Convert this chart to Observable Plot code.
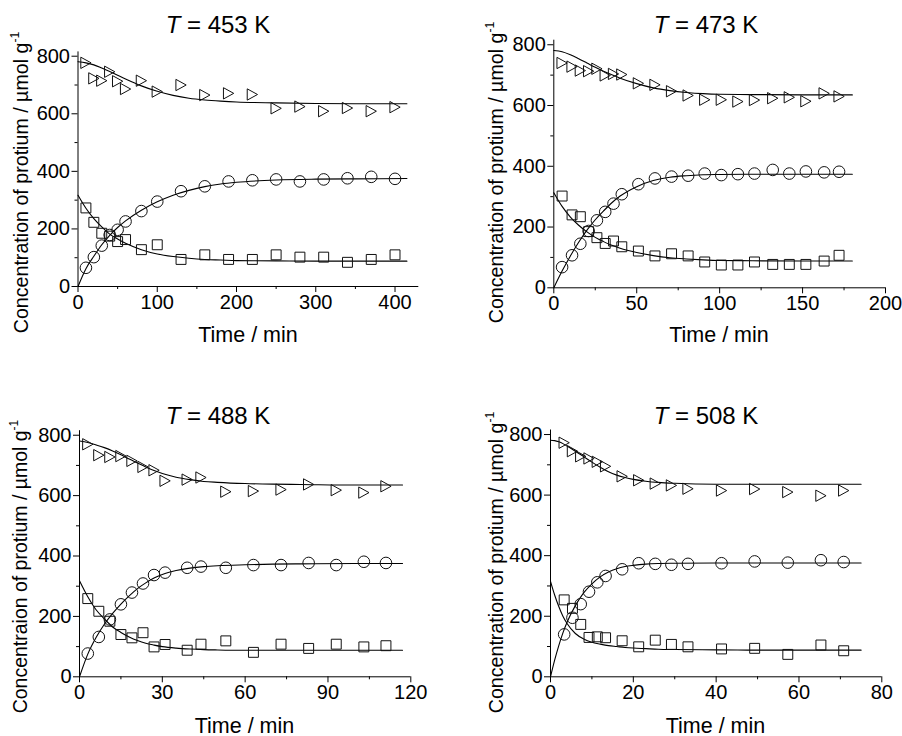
<!DOCTYPE html>
<html>
<head>
<meta charset="utf-8">
<script src="https://cdn.jsdelivr.net/npm/d3@7"></script>
<script src="https://cdn.jsdelivr.net/npm/@observablehq/plot@0.6"></script>
<style>
  body { margin: 0; background: #fff; }
  #root { position: relative; width: 902px; height: 736px; overflow: hidden;
          font-family: "Liberation Sans", Arial, sans-serif; color: #000; background: #fff; }
  .panel { position: absolute; }
  .title { position: absolute; width: 300px; text-align: center; font-size: 24px; line-height: 24px; white-space: nowrap; }
  .xlab { position: absolute; width: 240px; text-align: center; font-size: 21.5px; line-height: 22px; white-space: nowrap; }
  .ylab { position: absolute; font-size: 21px; line-height: 22px; white-space: nowrap; transform-origin: 50% 50%; }
  .ylab sup { font-size: 13px; vertical-align: 0; position: relative; top: -9px; }
</style>
</head>
<body>
<div id="root"></div>
<script>
// ---------- shared axis ticks ----------
const yTicksMajor = [0, 200, 400, 600, 800];
const yTicksMinor = [100, 300, 500, 700];

// ---------- T = 453 K ----------
const time453 = [10, 20, 30, 40, 50, 60, 80, 100, 130, 160, 190, 220, 250, 280, 310, 340, 370, 400];
const tri453  = [777, 723, 715, 746, 713, 686, 715, 677, 700, 665, 671, 667, 619, 625, 609, 620, 609, 623];
const circ453 = [65, 102, 142, 179, 197, 226, 262, 295, 331, 348, 365, 369, 372, 365, 372, 376, 381, 374];
const sq453   = [273, 223, 185, 175, 156, 163, 128, 145, 94, 110, 94, 94, 110, 102, 102, 84, 94, 110];
const fitTime453 = [0, 10, 20, 30, 40, 50, 60, 80, 100, 120, 140, 160, 180, 200, 250, 300, 350, 415];
const fitTri453  = [781, 777, 770, 759, 747, 734, 721, 697, 678, 664, 654, 648, 644, 641, 638, 636, 635, 635];
const fitCirc453 = [0, 62, 105, 145, 178, 205, 228, 265, 294, 317, 334, 347, 356, 362, 370, 373, 374, 375];
const fitSq453   = [317, 272, 236, 207, 182, 165, 150, 128, 113, 104, 98, 94, 92, 90, 89, 88, 88, 88];
const xTicks453 = [0, 100, 200, 300, 400];
const xMinor453 = [50, 150, 250, 350];

// ---------- T = 473 K ----------
const time473 = [5, 11, 16, 21, 26, 31, 36, 41, 51, 61, 71, 81, 91, 101, 111, 121, 132, 142, 152, 163, 172];
const tri473  = [740, 728, 715, 713, 721, 699, 704, 702, 673, 668, 647, 633, 619, 619, 613, 618, 624, 627, 614, 640, 630];
const circ473 = [68, 107, 145, 187, 222, 250, 277, 308, 341, 360, 366, 369, 376, 371, 374, 376, 388, 376, 383, 380, 382];
const sq473   = [302, 240, 234, 185, 165, 146, 154, 135, 121, 105, 112, 105, 85, 75, 75, 85, 77, 77, 77, 88, 107];
const fitTime473 = [0, 5, 10, 15, 20, 25, 30, 35, 40, 50, 60, 70, 80, 90, 100, 120, 150, 180];
const fitTri473  = [781, 777, 767, 754, 740, 726, 713, 701, 690, 672, 658, 649, 643, 639, 637, 636, 635, 635];
const fitCirc473 = [0, 55, 105, 150, 190, 224, 253, 280, 302, 333, 353, 364, 369, 372, 373, 374, 374, 374];
const fitSq473   = [313, 268, 233, 206, 184, 166, 152, 140, 130, 116, 106, 99, 95, 92, 90, 89, 88, 88];
const xTicks473 = [0, 50, 100, 150, 200];
const xMinor473 = [25, 75, 125, 175];

// ---------- T = 488 K ----------
const time488 = [3, 7, 11, 15, 19, 23, 27, 31, 39, 44, 53, 63, 73, 83, 93, 103, 111];
const tri488  = [770, 734, 728, 731, 715, 695, 684, 649, 653, 660, 613, 615, 620, 637, 618, 610, 631];
const circ488 = [77, 132, 190, 240, 279, 309, 337, 345, 361, 365, 361, 370, 370, 377, 370, 381, 377];
const sq488   = [259, 217, 184, 140, 129, 146, 99, 107, 88, 108, 119, 81, 108, 94, 108, 99, 103];
const fitTime488 = [0, 3, 6, 9, 12, 15, 18, 21, 24, 27, 30, 35, 40, 45, 50, 60, 70, 80, 100, 117];
const fitTri488  = [781, 776, 768, 759, 748, 735, 721, 708, 695, 683, 673, 661, 653, 647, 644, 640, 638, 637, 635, 635];
const fitCirc488 = [0, 75, 130, 174, 210, 241, 268, 292, 311, 327, 339, 352, 360, 365, 368, 371, 373, 374, 375, 375];
const fitSq488   = [318, 265, 222, 192, 165, 147, 132, 120, 111, 105, 100, 95, 92, 90, 89, 88, 88, 88, 88, 88];
const xTicks488 = [0, 30, 60, 90, 120];
const xMinor488 = [15, 45, 75, 105];

// ---------- T = 508 K ----------
const time508 = [3.3, 5.3, 7.3, 9.3, 11.3, 13.3, 17.3, 21.3, 25.3, 29.2, 33.2, 41.3, 49.3, 57.3, 65.3, 70.8];
const tri508  = [773, 745, 728, 721, 710, 695, 662, 649, 638, 632, 621, 615, 620, 610, 598, 615];
const circ508 = [140, 195, 240, 281, 312, 333, 355, 375, 373, 370, 373, 375, 381, 377, 385, 379];
const sq508   = [254, 226, 173, 130, 132, 129, 119, 99, 121, 107, 99, 92, 94, 74, 105, 86];
const fitTime508 = [0, 1, 2, 3, 4, 6, 8, 10, 12, 14, 16, 18, 20, 23, 26, 30, 40, 50, 75];
const fitTri508  = [781, 780, 776, 770, 762, 745, 727, 709, 692, 677, 666, 658, 652, 646, 642, 639, 636, 636, 636];
const fitCirc508 = [0, 55, 103, 145, 180, 235, 277, 307, 330, 346, 357, 364, 368, 372, 374, 375, 376, 376, 376];
const fitSq508   = [315, 270, 232, 200, 176, 143, 125, 114, 108, 103, 100, 97, 95, 93, 91, 90, 89, 88, 88];
const xTicks508 = [0, 20, 40, 60, 80];
const xMinor508 = [10, 30, 50, 70];

const titles = ["453", "473", "488", "508"];
const yLabels = ["Concentration of protium / \u00b5mol g", "Concentration of protium / \u00b5mol g",
                 "Concentraion of protium / \u00b5mol g", "Concentration of protium / \u00b5mol g"];
const xLabel = "Time / min";

// ---------- layout (pixel geometry, kept separate from the data) ----------
const layout = [
  {left: 0,   top: 0,   w: 451, h: 368, mt: 51.4, mb: 82,   ml: 77.5,  mr: 32.7, xMax: 430,
   titleX: 218, titleBase: 33,  xlabX: 248, xlabBase: 342.5, ylabX: 21.5, ylabY: 182},
  {left: 451, top: 0,   w: 451, h: 368, mt: 39.7, mb: 80.7, ml: 102.3, mr: 17,   xMax: 200,
   titleX: 706, titleBase: 33,  xlabX: 719, xlabBase: 342.5, ylabX: 496.5, ylabY: 172.5},
  {left: 0,   top: 368, w: 451, h: 368, mt: 62.2, mb: 59.7, ml: 79,    mr: 40.7, xMax: 120,
   titleX: 218, titleBase: 424, xlabX: 244.5, xlabBase: 733, ylabX: 21.5, ylabY: 566},
  {left: 451, top: 368, w: 451, h: 368, mt: 61.5, mb: 59.7, ml: 99,    mr: 20.7, xMax: 80,
   titleX: 706, titleBase: 424, xlabX: 715.5, xlabBase: 733, ylabX: 496.5, ylabY: 562}
];

const series = [
  {time: time453, tri: tri453, circ: circ453, sq: sq453, fitTime: fitTime453, fitTri: fitTri453, fitCirc: fitCirc453, fitSq: fitSq453, xTicks: xTicks453, xMinor: xMinor453},
  {time: time473, tri: tri473, circ: circ473, sq: sq473, fitTime: fitTime473, fitTri: fitTri473, fitCirc: fitCirc473, fitSq: fitSq473, xTicks: xTicks473, xMinor: xMinor473},
  {time: time488, tri: tri488, circ: circ488, sq: sq488, fitTime: fitTime488, fitTri: fitTri488, fitCirc: fitCirc488, fitSq: fitSq488, xTicks: xTicks488, xMinor: xMinor488},
  {time: time508, tri: tri508, circ: circ508, sq: sq508, fitTime: fitTime508, fitTri: fitTri508, fitCirc: fitCirc508, fitSq: fitSq508, xTicks: xTicks508, xMinor: xMinor508}
];

// right-pointing open triangle symbol
const triangleRight = {
  draw(ctx, size) {
    const s = Math.sqrt(size);
    const w = s * 1.0, h = s * 1.1;
    ctx.moveTo(w / 2, 0);
    ctx.lineTo(-w / 2, -h / 2);
    ctx.lineTo(-w / 2, h / 2);
    ctx.closePath();
  }
};

const zip = (t, v) => t.map((d, i) => ({t: d, v: v[i]}));

const root = document.getElementById("root");

layout.forEach((L, i) => {
  const S = series[i];
  const ink = "#111";
  const chart = Plot.plot({
    width: L.w, height: L.h,
    marginTop: L.mt, marginBottom: L.mb, marginLeft: L.ml, marginRight: L.mr,
    x: {domain: [0, L.xMax]},
    y: {domain: [0, 815]},
    style: {fontFamily: "'Liberation Sans', Arial, sans-serif", fontSize: "20px", background: "transparent", color: "#000", overflow: "visible"},
    marks: [
      Plot.axisX({ticks: S.xTicks, tickSize: 6, tickPadding: 2, fontSize: 20, label: null, tickFormat: d => String(d)}),
      Plot.axisX({ticks: S.xMinor, tickSize: 3, fill: "none", label: null}),
      Plot.axisY({ticks: yTicksMajor, tickSize: 6, tickPadding: 2, fontSize: 20, label: null, tickFormat: d => String(d)}),
      Plot.axisY({ticks: yTicksMinor, tickSize: 3, fill: "none", label: null}),
      Plot.ruleY([0], {stroke: "#000", strokeWidth: 1}),
      Plot.ruleX([0], {stroke: "#000", strokeWidth: 1}),
      Plot.line(zip(S.fitTime, S.fitTri),  {x: "t", y: "v", curve: "monotone-x", stroke: "#000", strokeWidth: 1.1}),
      Plot.line(zip(S.fitTime, S.fitCirc), {x: "t", y: "v", curve: "monotone-x", stroke: "#000", strokeWidth: 1.1}),
      Plot.line(zip(S.fitTime, S.fitSq),   {x: "t", y: "v", curve: "monotone-x", stroke: "#000", strokeWidth: 1.1}),
      Plot.dot(zip(S.time, S.tri),  {x: "t", y: "v", symbol: triangleRight, r: 5.8, fill: "none", stroke: ink, strokeWidth: 1}),
      Plot.dot(zip(S.time, S.circ), {x: "t", y: "v", symbol: "circle", r: 5.8, fill: "none", stroke: ink, strokeWidth: 1}),
      Plot.dot(zip(S.time, S.sq),   {x: "t", y: "v", symbol: "square", r: 5.6, fill: "none", stroke: ink, strokeWidth: 1})
    ]
  });
  const holder = document.createElement("div");
  holder.className = "panel";
  holder.style.left = L.left + "px";
  holder.style.top = L.top + "px";
  holder.appendChild(chart);
  root.appendChild(holder);

  // title
  const t = document.createElement("div");
  t.className = "title";
  t.innerHTML = "<i>T</i> = " + titles[i] + " K";
  t.style.left = (L.titleX - 150) + "px";
  t.style.top = (L.titleBase - 20.3) + "px";
  root.appendChild(t);

  // x label
  const xl = document.createElement("div");
  xl.className = "xlab";
  xl.textContent = xLabel;
  xl.style.left = (L.xlabX - 120) + "px";
  xl.style.top = (L.xlabBase - 18.5) + "px";
  root.appendChild(xl);

  // y label (rotated)
  const yl = document.createElement("div");
  yl.className = "ylab";
  yl.innerHTML = yLabels[i] + "<sup>-1</sup>";
  root.appendChild(yl);
  const w = yl.offsetWidth, h = yl.offsetHeight;
  const k = (i === 2 ? 294 : 301) / w;
  yl.style.left = (L.ylabX - w / 2) + "px";
  yl.style.top = (L.ylabY - h / 2) + "px";
  yl.style.transform = "rotate(-90deg) scaleX(" + k.toFixed(3) + ")";
});
</script>
</body>
</html>
